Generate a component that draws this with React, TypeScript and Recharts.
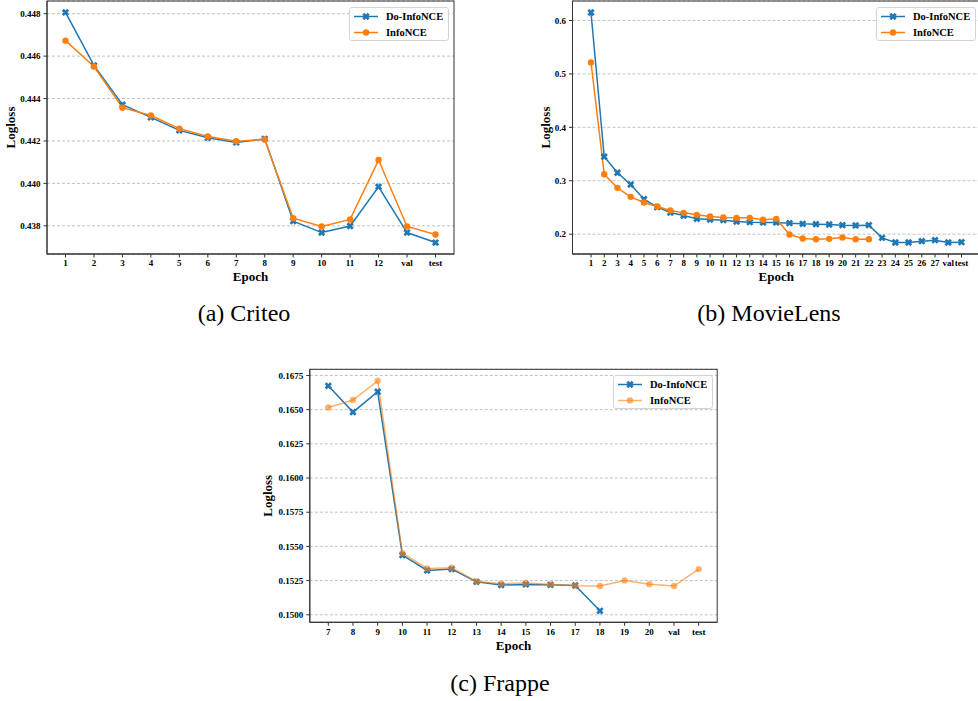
import React from 'react';
import * as R from 'recharts';
import { LineChart, Line, XAxis, YAxis, CartesianGrid, Legend, Label } from 'recharts';

// ---------- data ----------
const seriesNames = ['Do-InfoNCE', 'InfoNCE'];

const criteoEpochs = ['1', '2', '3', '4', '5', '6', '7', '8', '9', '10', '11', '12', 'val', 'test'];
const criteoDo = [0.44806, 0.44556, 0.44371, 0.44311, 0.4425, 0.44215, 0.44193, 0.4421, 0.43822, 0.43768, 0.43799, 0.43984, 0.43768, 0.43721];
const criteoInfo = [0.44673, 0.44551, 0.44357, 0.4432, 0.44258, 0.44221, 0.44199, 0.44207, 0.43836, 0.43797, 0.4383, 0.4411, 0.43797, 0.43759];
const criteoTicks = [0.438, 0.44, 0.442, 0.444, 0.446, 0.448];

const movieEpochs = ['1', '2', '3', '4', '5', '6', '7', '8', '9', '10', '11', '12', '13', '14', '15', '16', '17', '18', '19', '20', '21', '22', '23', '24', '25', '26', '27', 'val', 'test'];
const movieDo = [0.615, 0.345, 0.315, 0.293, 0.2655, 0.2506, 0.2406, 0.235, 0.2287, 0.2275, 0.2263, 0.2237, 0.2225, 0.2219, 0.2219, 0.2206, 0.2194, 0.2188, 0.2181, 0.2169, 0.2163, 0.2169, 0.1931, 0.1844, 0.1844, 0.1869, 0.1888, 0.1844, 0.185];
const movieInfo = [0.5214, 0.3123, 0.2867, 0.2699, 0.2593, 0.2518, 0.2443, 0.2399, 0.2362, 0.2331, 0.2312, 0.2306, 0.2306, 0.2269, 0.2287, 0.1994, 0.1919, 0.1906, 0.1913, 0.1938, 0.1906, 0.1906, null, null, null, null, null, null, null];
const movieTicks = [0.2, 0.3, 0.4, 0.5, 0.6];

const frappeEpochs = ['7', '8', '9', '10', '11', '12', '13', '14', '15', '16', '17', '18', '19', '20', 'val', 'test'];
const frappeDo = [0.16674, 0.16482, 0.16631, 0.15436, 0.15324, 0.15334, 0.15241, 0.15217, 0.15222, 0.15219, 0.15214, 0.15029, null, null, null, null];
const frappeInfo = [0.16516, 0.1657, 0.16711, 0.15451, 0.15339, 0.15344, 0.15244, 0.15227, 0.15232, 0.15222, 0.15212, 0.1521, 0.15251, 0.15224, 0.1521, 0.15334];
const frappeTicks = [0.15, 0.1525, 0.155, 0.1575, 0.16, 0.1625, 0.165, 0.1675];

// ---------- styles ----------
const BLUE = '#1f77b4';
const ORANGE = '#ff7f0e';
const SERIF = '"Liberation Serif", "Times New Roman", Times, serif';
const FRAME = '#333333';

const RA: any = R;
const usePlotAreaSafe: () => any = RA.usePlotArea || RA.useOffset || (() => null);

// Full box around the plot area, sized from the chart's own layout.
const PlotFrame = () => {
  const area = usePlotAreaSafe();
  if (!area) return null;
  const x = area.x != null ? area.x : area.left;
  const y = area.y != null ? area.y : area.top;
  const w = area.width;
  const h = area.height;
  if (x == null || y == null || w == null || h == null) return null;
  return <rect x={x} y={y} width={w} height={h} fill="none" stroke={FRAME} strokeWidth={1} />;
};

function xPoints(cx: number, cy: number, s: number, t: number): string {
  const pts = [
    [t, s], [t, t], [s, t], [s, -t], [t, -t], [t, -s],
    [-t, -s], [-t, -t], [-s, -t], [-s, t], [-t, t], [-t, s],
  ];
  return pts.map(([x, y]) => `${cx + x},${cy + y}`).join(' ');
}

const XMarker = ({ cx, cy, color, opacity = 1 }: any) => (
  <polygon
    points={xPoints(cx, cy, 3.8, 1.35)}
    transform={`rotate(45 ${cx} ${cy})`}
    fill={color}
    fillOpacity={opacity}
  />
);

const makeXDot = (color: string, opacity: number) => (props: any) => {
  const { cx, cy, index, value } = props;
  if (cx == null || cy == null || value == null) return <g key={`x${index}`} />;
  return <XMarker key={`x${index}`} cx={cx} cy={cy} color={color} opacity={opacity} />;
};

const makeODot = (color: string, opacity: number) => (props: any) => {
  const { cx, cy, index, value } = props;
  if (cx == null || cy == null || value == null) return <g key={`o${index}`} />;
  return <circle key={`o${index}`} cx={cx} cy={cy} r={3.2} fill={color} fillOpacity={opacity} />;
};

const LegendBox = ({ payload, infoOpacity }: any) => {
  const items = (payload || []).filter((it: any) => seriesNames.indexOf(it.value) >= 0);
  return (
    <div
      style={{
        boxSizing: 'border-box',
        width: '100%',
        height: '100%',
        border: '1px solid #d4d4d4',
        borderRadius: 3,
        background: 'rgba(255,255,255,0.85)',
        paddingTop: 1,
      }}
    >
      {items.map((it: any, i: number) => {
        const op = i === 1 ? infoOpacity : 1;
        return (
          <div key={i} style={{ display: 'flex', alignItems: 'center', height: 15.5 }}>
            <svg width={34} height={15} style={{ flex: 'none' }}>
              <line x1={4} x2={28} y1={7.5} y2={7.5} stroke={it.color} strokeWidth={1.5} strokeOpacity={op} />
              {i === 0 ? (
                <XMarker cx={16} cy={7.5} color={it.color} opacity={op} />
              ) : (
                <circle cx={16} cy={7.5} r={3.2} fill={it.color} fillOpacity={op} />
              )}
            </svg>
            <span
              style={{
                marginLeft: 2,
                fontFamily: SERIF,
                fontWeight: 'bold',
                fontSize: 10.5,
                color: '#000',
                whiteSpace: 'nowrap',
                lineHeight: '15px',
              }}
            >
              {it.value}
            </span>
          </div>
        );
      })}
    </div>
  );
};

interface PanelProps {
  left: number;
  top: number;
  width: number;
  height: number;
  margin: { top: number; right: number; bottom: number; left: number };
  yAxisWidth: number;
  xAxisHeight: number;
  pad: number;
  categories: string[];
  doValues: (number | null)[];
  infoValues: (number | null)[];
  domain: [number, number];
  ticks: number[];
  decimals: number;
  legendLeft: number;
  legendTop: number;
  ylabelX: number;
  xlabelDy: number;
  infoOpacity: number;
  tickFont: number;
}

function Panel(p: PanelProps) {
  const data = p.categories.map((c, i) => ({ epoch: c, doInfo: p.doValues[i], info: p.infoValues[i] }));
  const tickStyle = { fontSize: p.tickFont, fontWeight: 'bold', fontFamily: SERIF, fill: '#000' } as any;
  return (
    <div style={{ position: 'absolute', left: p.left, top: p.top }}>
      <LineChart width={p.width} height={p.height} data={data} margin={p.margin}>
        <CartesianGrid vertical={false} stroke="#b3b3b3" strokeDasharray="3 2" strokeWidth={0.8} />
        <XAxis
          dataKey="epoch"
          interval={0}
          padding={{ left: p.pad, right: p.pad }}
          height={p.xAxisHeight}
          tickSize={3.5}
          tickMargin={2.5}
          stroke={FRAME}
          tick={tickStyle}
        >
          <Label
            content={(lp: any) => {
              const vb = lp.viewBox || {};
              return (
                <text
                  x={vb.x + vb.width / 2}
                  y={vb.y + p.xlabelDy}
                  textAnchor="middle"
                  dominantBaseline="central"
                  fontFamily={SERIF}
                  fontWeight="bold"
                  fontSize={13}
                  fill="#000"
                >
                  Epoch
                </text>
              );
            }}
          />
        </XAxis>
        <YAxis
          type="number"
          domain={p.domain}
          ticks={p.ticks}
          allowDataOverflow
          width={p.yAxisWidth}
          tickSize={3.5}
          tickMargin={3}
          stroke={FRAME}
          tick={tickStyle}
          tickFormatter={(v: number) => v.toFixed(p.decimals)}
        >
          <Label
            content={(lp: any) => {
              const vb = lp.viewBox || {};
              const cx = vb.x + p.ylabelX;
              const cy = vb.y + vb.height / 2;
              return (
                <text
                  x={cx}
                  y={cy}
                  transform={`rotate(-90 ${cx} ${cy})`}
                  textAnchor="middle"
                  dominantBaseline="central"
                  fontFamily={SERIF}
                  fontWeight="bold"
                  fontSize={13}
                  fill="#000"
                >
                  Logloss
                </text>
              );
            }}
          />
        </YAxis>
        <PlotFrame />
        <Legend
          layout="horizontal"
          verticalAlign="middle"
          align="center"
          wrapperStyle={{ left: p.legendLeft, top: p.legendTop, width: 100, height: 34 }}
          content={(lp: any) => <LegendBox payload={lp.payload} infoOpacity={p.infoOpacity} />}
        />
        <Line
          dataKey="doInfo"
          name={seriesNames[0]}
          stroke={BLUE}
          strokeWidth={1.5}
          dot={makeXDot(BLUE, 1)}
          activeDot={false}
          isAnimationActive={false}
        />
        <Line
          dataKey="info"
          name={seriesNames[1]}
          stroke={ORANGE}
          strokeOpacity={p.infoOpacity}
          strokeWidth={1.5}
          dot={makeODot(ORANGE, p.infoOpacity)}
          activeDot={false}
          isAnimationActive={false}
        />
      </LineChart>
    </div>
  );
}

const Caption = ({ cx, cy, text }: { cx: number; cy: number; text: string }) => (
  <div
    style={{
      position: 'absolute',
      left: cx - 150,
      top: cy - 15,
      width: 300,
      height: 30,
      lineHeight: '30px',
      textAlign: 'center',
      fontFamily: SERIF,
      fontSize: 24,
      color: '#000',
    }}
  >
    {text}
  </div>
);

export default function App() {
  return (
    <div
      style={{
        position: 'absolute',
        left: 0,
        top: 0,
        width: 978,
        height: 701,
        overflow: 'hidden',
        background: '#fff',
      }}
    >
      <Panel
        left={0}
        top={0}
        width={470}
        height={290}
        margin={{ top: 1, right: 16, bottom: 0, left: 0 }}
        yAxisWidth={47}
        xAxisHeight={36}
        pad={18.5}
        categories={criteoEpochs}
        doValues={criteoDo}
        infoValues={criteoInfo}
        domain={[0.43667, 0.4486]}
        ticks={criteoTicks}
        decimals={3}
        legendLeft={349}
        legendTop={7}
        ylabelX={10}
        xlabelDy={22}
        infoOpacity={1}
        tickFont={9}
      />
      <Panel
        left={500}
        top={0}
        width={490}
        height={290}
        margin={{ top: 1, right: 10, bottom: 0, left: 0 }}
        yAxisWidth={72.5}
        xAxisHeight={36}
        pad={18.5}
        categories={movieEpochs}
        doValues={movieDo}
        infoValues={movieInfo}
        domain={[0.1629, 0.6365]}
        ticks={movieTicks}
        decimals={1}
        legendLeft={376}
        legendTop={7}
        ylabelX={45}
        xlabelDy={22}
        infoOpacity={1}
        tickFont={9}
      />
      <Panel
        left={250}
        top={360}
        width={480}
        height={300}
        margin={{ top: 9.3, right: 12.8, bottom: 0, left: 0 }}
        yAxisWidth={59.8}
        xAxisHeight={37.7}
        pad={18.5}
        categories={frappeEpochs}
        doValues={frappeDo}
        infoValues={frappeInfo}
        domain={[0.14945, 0.16795]}
        ticks={frappeTicks}
        decimals={4}
        legendLeft={363}
        legendTop={15}
        ylabelX={17.3}
        xlabelDy={22.7}
        infoOpacity={0.6}
        tickFont={9}
      />
      <Caption cx={244} cy={313} text="(a) Criteo" />
      <Caption cx={769} cy={313} text="(b) MovieLens" />
      <Caption cx={500} cy={683} text="(c) Frappe" />
    </div>
  );
}
